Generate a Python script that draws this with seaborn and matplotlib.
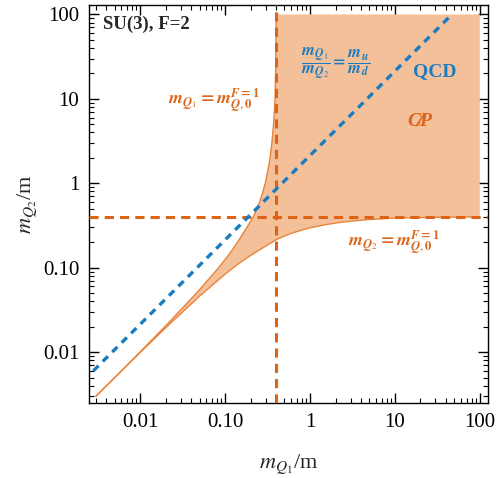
import matplotlib
matplotlib.use("Agg")
import matplotlib.pyplot as plt
import seaborn as sns

# lower edge of the shaded region (m_Q2 vs m_Q1)
lower_x = [0.003, 0.006, 0.01, 0.02, 0.03, 0.05, 0.1, 0.15, 0.2, 0.3, 0.4, 0.5, 0.6, 0.8, 1, 1.5, 2, 3, 5, 10, 20, 50, 100]
lower_y = [0.003, 0.006, 0.0099, 0.0195, 0.0285, 0.046, 0.084, 0.115, 0.14, 0.18, 0.215, 0.237, 0.255, 0.279, 0.297, 0.322, 0.338, 0.355, 0.372, 0.387, 0.393, 0.397, 0.399]

# upper edge of the shaded region
upper_x = [0.003, 0.006, 0.0099, 0.0195, 0.0285, 0.046, 0.084, 0.115, 0.14, 0.18, 0.215, 0.237, 0.255, 0.279, 0.297, 0.322, 0.338, 0.355, 0.372, 0.387, 0.393, 0.397, 0.399]
upper_y = [0.003, 0.006, 0.01, 0.02, 0.03, 0.05, 0.1, 0.15, 0.2, 0.3, 0.4, 0.5, 0.6, 0.8, 1, 1.5, 2, 3, 5, 10, 20, 50, 100]

# m_Q1/m_Q2 = m_u/m_d line
qcd_x = [0.0028, 47]
qcd_y = [0.006, 100]

# m_Q,0^(F=1)
m_q0 = 0.4

tick_vals = [0.01, 0.1, 1, 10, 100]
tick_labels = ["0.01", "0.10", "1", "10", "100"]

FILL = "#f3c09a"
EDGE = "#e8843c"
DASH = "#dc6414"
BLUE = "#1a7cc0"
TXT_OR = "#d9661a"

sns.set_style("ticks")
plt.rcParams["font.family"] = ["Liberation Serif", "DejaVu Serif"]
plt.rcParams["mathtext.fontset"] = "stix"

fig = plt.figure(figsize=(4.98, 4.78), dpi=100)
ax = fig.add_axes([0.179, 0.157, 0.801, 0.833])

# shaded region
poly_x = lower_x + [lower_x[-1]] + upper_x[::-1]
poly_y = lower_y + [upper_y[-1]] + upper_y[::-1]
ax.fill(poly_x, poly_y, color=FILL, lw=0, zorder=1)
sns.lineplot(x=lower_x, y=lower_y, color=EDGE, lw=1, estimator=None, ax=ax, zorder=2)
sns.lineplot(x=upper_x, y=upper_y, color=EDGE, lw=1, estimator=None, ax=ax, zorder=2)

# dashed boundaries
ax.axvline(m_q0, color=DASH, lw=2.2, ls=(0, (3, 2)), zorder=3)
ax.axhline(m_q0, color=DASH, lw=2.2, ls=(0, (3, 2)), zorder=3)
sns.lineplot(x=qcd_x, y=qcd_y, color=BLUE, lw=2.4, estimator=None, ax=ax, zorder=4)
ax.lines[-1].set_linestyle((0, (2.2, 1.8)))

ax.set_xscale("log")
ax.set_yscale("log")
ax.set_xlim(0.0025, 125)
ax.set_ylim(0.0025, 130)
ax.set_xticks(tick_vals, tick_labels)
ax.set_yticks(tick_vals, tick_labels)
ax.tick_params(which="both", direction="in", top=True, right=True, colors="black", labelsize=15)
ax.tick_params(which="major", length=7, width=1, pad=7)
ax.tick_params(which="minor", length=3.5, width=0.8)
for sp in ax.spines.values():
    sp.set_color("black")
    sp.set_linewidth(1)

ax.set_xlabel(r"$m_{Q_1}$/m", fontsize=16, labelpad=15)
ax.set_ylabel(r"$m_{Q_2}$/m", fontsize=16, labelpad=2)

ax.text(0.035, 0.95, "SU(3), F=2", transform=ax.transAxes, fontsize=13.5,
        fontweight="bold", ha="left", va="center")
ax.text(0.313, 0.76, r"$\mathbfit{m}_{\mathbfit{Q}_1}\mathbf{=}\mathbfit{m}_{\mathbfit{Q},\mathbf{0}}^{\mathbfit{F}\mathbf{=1}}$",
        transform=ax.transAxes, fontsize=13, color=TXT_OR, ha="center", va="center")
ax.text(0.764, 0.405, r"$\mathbfit{m}_{\mathbfit{Q}_2}\mathbf{=}\mathbfit{m}_{\mathbfit{Q},\mathbf{0}}^{\mathbfit{F}\mathbf{=1}}$",
        transform=ax.transAxes, fontsize=13, color=TXT_OR, ha="center", va="center")
ax.text(0.617, 0.852, r"$\dfrac{\mathbfit{m}_{\mathbfit{Q}_1}}{\mathbfit{m}_{\mathbfit{Q}_2}}\mathbf{=}\dfrac{\mathbfit{m}_{\mathbfit{u}}}{\mathbfit{m}_{\mathbfit{d}}}$",
        transform=ax.transAxes, fontsize=12, color=BLUE, ha="center", va="center")
ax.text(0.867, 0.832, "QCD", transform=ax.transAxes, fontsize=14, fontweight="bold",
        color=BLUE, ha="center", va="center")
ax.text(0.830, 0.706, "CP", transform=ax.transAxes, fontsize=14, fontweight="bold",
        fontstyle="italic", color=TXT_OR, ha="center", va="center")
ax.text(0.826, 0.708, "/", transform=ax.transAxes, fontsize=17, fontweight="bold",
        color=TXT_OR, ha="center", va="center", rotation=-15)

fig.savefig("out.png", dpi=100)
